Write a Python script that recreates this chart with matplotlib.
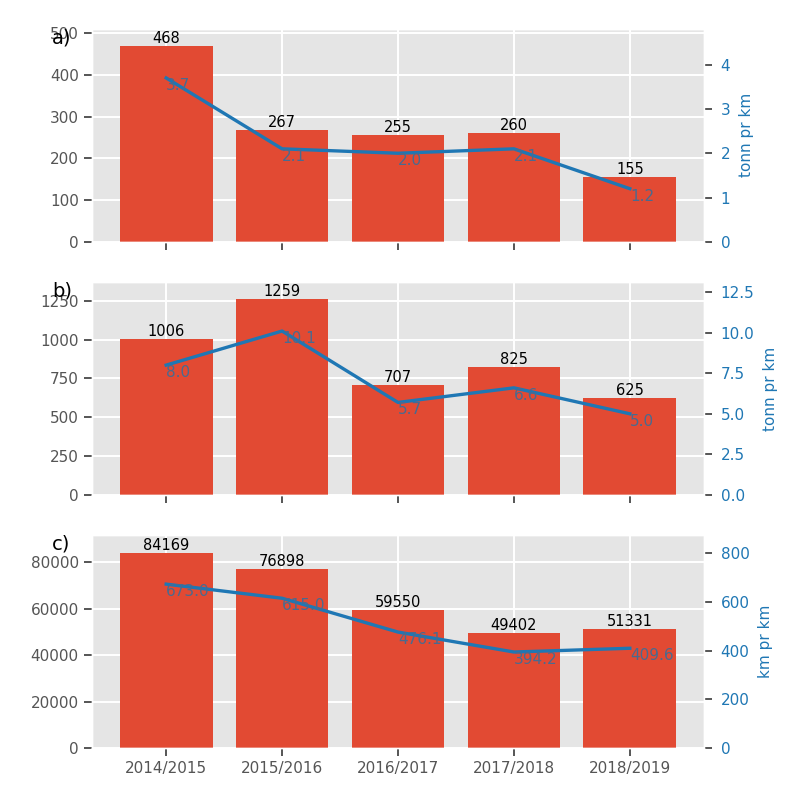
import matplotlib
matplotlib.use('Agg')
import matplotlib.pyplot as plt

# Seasons on the x axis
seasons = ['2014/2015', '2015/2016', '2016/2017', '2017/2018', '2018/2019']

# a) tonnes (bars) and tonnes per km (line)
a_bars = [468, 267, 255, 260, 155]
a_line = [3.7, 2.1, 2.0, 2.1, 1.2]

# b) tonnes (bars) and tonnes per km (line)
b_bars = [1006, 1259, 707, 825, 625]
b_line = [8.0, 10.1, 5.7, 6.6, 5.0]

# c) km (bars) and km per km (line)
c_bars = [84169, 76898, 59550, 49402, 51331]
c_line = [673.0, 615.0, 476.1, 394.2, 409.6]

panel_names = ['a)', 'b)', 'c)']
right_labels = ['tonn pr km', 'tonn pr km', 'km pr km']

plt.style.use('ggplot')
plt.rcParams['grid.linewidth'] = 1.4
line_color = '#1f77b4'
value_color = '#4a6a8f'
tick_kw = dict(length=6, width=1.4, color='#555555')


def plot_panel(ax, bars, line, name, right_label):
    x = list(range(len(seasons)))
    ax.bar(x, bars, width=0.8, color='#E24A33')
    ax.set_ylim(0, max(bars) * 1.09)
    for xi, val in zip(x, bars):
        ax.text(xi, val, str(val), ha='center', va='bottom', fontsize=10.5, color='black')
    ax.tick_params(axis='both', labelsize=11, **tick_kw)
    ax.text(-0.065, 1.0, name, transform=ax.transAxes, fontsize=14,
            ha='left', va='top', color='black')

    ax2 = ax.twinx()
    ax2.plot(x, line, color=line_color, linewidth=2.4)
    ax2.set_ylim(0, max(line) * 1.3)
    ax2.grid(False)
    for xi, val in zip(x, line):
        ax2.text(xi, val, f'{val:.1f}', ha='left', va='top', fontsize=11, color=value_color)
    ax2.set_ylabel(right_label, color=line_color, fontsize=11, labelpad=6)
    ax2.tick_params(axis='y', labelcolor=line_color, labelsize=11, pad=6, **tick_kw)
    return ax2


fig, axes = plt.subplots(3, 1, figsize=(8, 8), dpi=100, sharex=True)
fig.subplots_adjust(left=0.115, right=0.88, bottom=0.065, top=0.964, hspace=0.188)

all_bars = [a_bars, b_bars, c_bars]
all_lines = [a_line, b_line, c_line]
for ax, bars, line, name, rl in zip(axes, all_bars, all_lines, panel_names, right_labels):
    plot_panel(ax, bars, line, name, rl)

axes[-1].set_xticks(range(len(seasons)))
axes[-1].set_xticklabels(seasons)

fig.savefig('out.png')
